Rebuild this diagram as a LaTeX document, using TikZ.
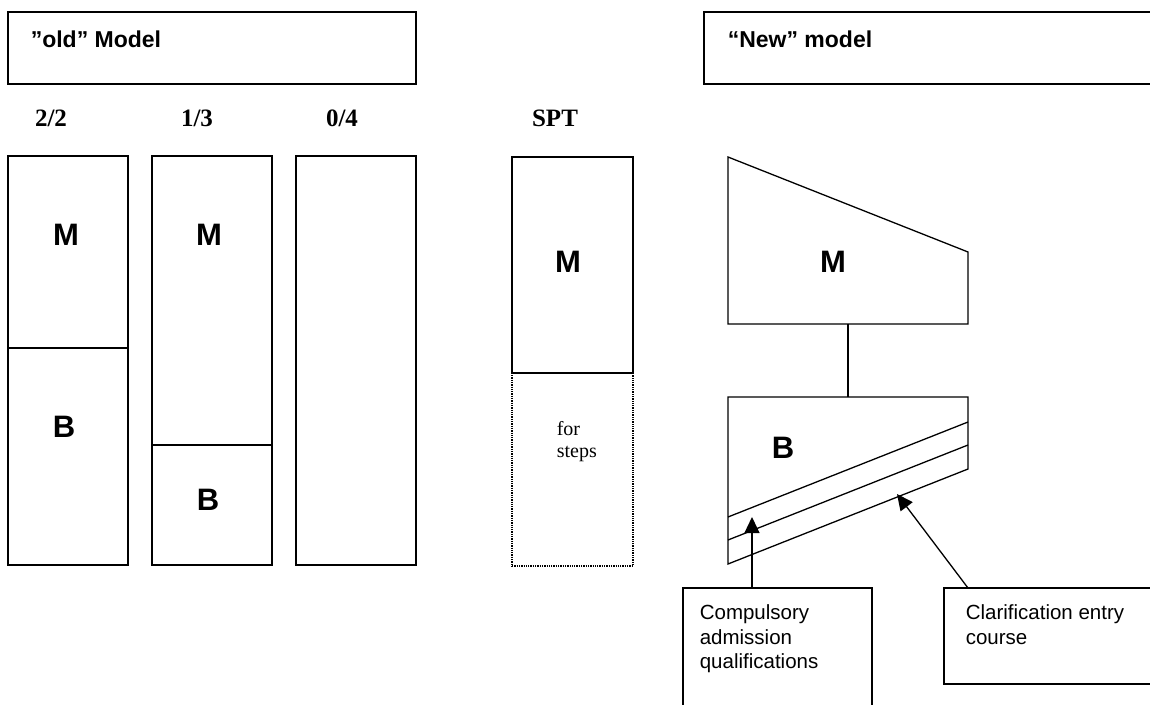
\documentclass[tikz,border=0pt]{standalone}
\usepackage{fontspec}
\setmainfont{Liberation Serif}
\setsansfont{Liberation Sans}
\usetikzlibrary{arrows.meta}
\begin{document}
\begin{tikzpicture}[x=1pt,y=-1pt,line width=1.6pt,
  rbox/.style={draw,rectangle,inner sep=0pt,outer sep=0pt,anchor=north west},
  dotbox/.style={rbox,densely dotted,line width=1.3pt},
  title/.style={anchor=base west,inner sep=0pt,font=\sffamily\bfseries\fontsize{23}{27}\selectfont},
  ratio/.style={anchor=base,inner sep=0pt,font=\rmfamily\bfseries\fontsize{25}{28}\selectfont},
  big/.style={inner sep=0pt,font=\sffamily\bfseries\fontsize{31}{34}\selectfont},
  note/.style={anchor=north west,inner sep=0pt,align=left,font=\sffamily\fontsize{20.5}{24.5}\selectfont},
  serifnote/.style={anchor=north west,inner sep=0pt,align=left,font=\rmfamily\fontsize{20}{21.5}\selectfont},
  thin/.style={line width=1.3pt},
  arr/.style={thin,-{Triangle[length=16pt,width=15pt]}}]
\useasboundingbox (0,0) rectangle (1150,704);
\clip (0,0) rectangle (1150,704);
\fill[white] (0,0) rectangle (1150,704);

% headers
\node[rbox,minimum width=408,minimum height=72] (oldbox) at (8,12) {};
\node[title] (oldt) at (30,47) {”old” Model};
\node[rbox,minimum width=460,minimum height=72] (newbox) at (704,12) {};
\node[title] (newt) at (727,47) {“New” model};

% ratio labels
\node[ratio] (r22) at (51,126) {2/2};
\node[ratio] (r13) at (197,126) {1/3};
\node[ratio] (r04) at (342,126) {0/4};
\node[ratio] (rspt) at (555,126) {SPT};

% old model columns
\node[rbox,minimum width=120,minimum height=192] (c1m) at (8,156) {};
\node[rbox,minimum width=120,minimum height=217] (c1b) at (8,348) {};
\node[big] (c1mt) at (66,235) {M};
\node[big] (c1bt) at (64,427) {B};

\node[rbox,minimum width=120,minimum height=289] (c2m) at (152,156) {};
\node[rbox,minimum width=120,minimum height=120] (c2b) at (152,445) {};
\node[big] (c2mt) at (209,235) {M};
\node[big] (c2bt) at (208,500) {B};

\node[rbox,minimum width=120,minimum height=409] (c3) at (296,156) {};

% SPT column
\node[rbox,minimum width=121,minimum height=216] (sm) at (512,157) {};
\node[big] (smt) at (568,262) {M};
\node[dotbox,minimum width=121,minimum height=193] (sb) at (512,373) {};
\node[serifnote] (sbt) at (556,421) {for\\steps};

% new model shapes
\draw[thin] (728,157) -- (968,252) -- (968,324) -- (728,324) -- cycle;
\node[big] (nmt) at (833,262) {M};
\coordinate (mbot) at (848,324);
\coordinate (btop) at (848,397);
\draw[thin] (mbot) -- (btop);

\draw[thin] (728,397) -- (968,397) -- (968,469) -- (728,564) -- cycle;
\draw[thin] (728,517) -- (968,422);
\draw[thin] (728,540) -- (968,445);
\node[big] (nbt) at (783,448) {B};

% annotation boxes
\node[rbox,thin,minimum width=189,minimum height=140] (comp) at (683,588) {};
\node[note] (compt) at (699,604) {Compulsory\\admission\\qualifications};
\node[rbox,thin,minimum width=230,minimum height=96] (clar) at (944,588) {};
\node[note] (clart) at (965,604) {Clarification entry\\course};

\coordinate (a1s) at (752,588);
\coordinate (a1e) at (752,517);
\coordinate (a2s) at (968,588);
\coordinate (a2e) at (897,494);
\draw[arr] (a1s) -- (a1e);
\draw[arr] (a2s) -- (a2e);
\end{tikzpicture}
\end{document}
